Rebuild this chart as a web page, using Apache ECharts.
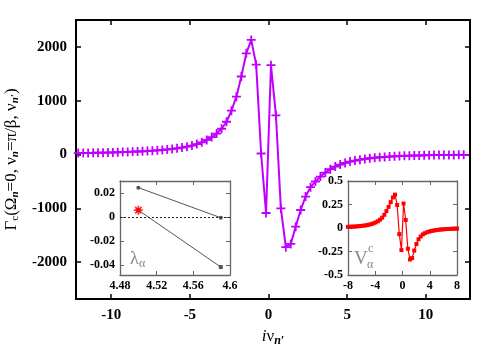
<!DOCTYPE html>
<html>
<head>
<meta charset="utf-8">
<script src="https://cdn.jsdelivr.net/npm/echarts@6/dist/echarts.min.js"></script>
<style>
  html, body { margin: 0; padding: 0; background: #fff; }
  #chart { width: 500px; height: 350px; }
</style>
</head>
<body>
<div id="chart"></div>
<script>
// fermionic Matsubara frequencies nu_n' (beta = 20)
var nu = [-12.10, -11.78, -11.47, -11.15, -10.84, -10.52, -10.21, -9.896, -9.582, -9.268,
  -8.954, -8.639, -8.325, -8.011, -7.697, -7.383, -7.069, -6.754, -6.440, -6.126,
  -5.812, -5.498, -5.184, -4.869, -4.555, -4.241, -3.927, -3.613, -3.299, -2.985,
  -2.670, -2.356, -2.042, -1.728, -1.414, -1.100, -0.785, -0.471, -0.157,
  0.157, 0.471, 0.785, 1.100, 1.414, 1.728, 2.042, 2.356, 2.670, 2.985,
  3.299, 3.613, 3.927, 4.241, 4.555, 4.869, 5.184, 5.498, 5.812, 6.126,
  6.440, 6.754, 7.069, 7.383, 7.697, 8.011, 8.325, 8.639, 8.954, 9.268,
  9.582, 9.896, 10.21, 10.52, 10.84, 11.15, 11.47, 11.78, 12.10, 12.41];

// Gamma_c(Omega=0, nu=pi/beta, nu')
var gammaC = [27, 28, 30, 32, 34, 36, 38, 40, 43, 46,
  49, 53, 57, 61, 66, 72, 79, 86, 95, 105,
  117, 130, 147, 167, 195, 228, 272, 325, 390, 480,
  610, 815, 1075, 1450, 1880, 2130, 1670, 20, -1085,
  1660, 730, -1000, -1720, -1660, -1340, -1030, -780, -605, -500,
  -408, -334, -271, -223, -185, -155, -130, -112, -95, -80,
  -68, -58, -50, -43, -37, -32, -28, -24, -21, -18,
  -16, -14, -12, -10, -9, -8, -7, -6, -5, -4];

// inset: leading eigenvalues lambda_alpha
var lamX = [4.50, 4.59];
var lamUpper = [0.0245, -0.0005];
var lamLower = [0.0058, -0.0414];

// inset: vertex V_alpha^c on nu in [-8, 8]
var vNu = nu.slice(13, 65);
var vertexC = [0.012, 0.013, 0.014, 0.015, 0.017, 0.019, 0.021, 0.024, 0.027, 0.031,
  0.036, 0.042, 0.05, 0.06, 0.072, 0.088, 0.11, 0.14, 0.18, 0.225,
  0.275, 0.325, 0.355, 0.245, -0.065, -0.235,
  0.26, 0.085, -0.22, -0.335, -0.32, -0.24, -0.17, -0.12, -0.09, -0.068,
  -0.055, -0.045, -0.038, -0.032, -0.027, -0.023, -0.02, -0.017, -0.015, -0.013,
  -0.011, -0.01, -0.009, -0.008, -0.007, -0.006];

var mainXTicks = [-10, -5, 0, 5, 10];
var mainYTicks = [-2000, -1000, 0, 1000, 2000];
var lamXTicks = [4.48, 4.52, 4.56, 4.6];
var lamYTicks = [-0.04, -0.02, 0, 0.02];
var vXTicks = [-8, -4, 0, 4, 8];
var vYTicks = [-0.5, -0.25, 0, 0.25, 0.5];

var serif = 'Liberation Serif';
var plusPath = 'path://M4,0H6V4H10V6H6V10H4V6H0V4H4Z';

function pairs(xs, ys) {
  return xs.map(function (x, i) { return [x, ys[i]]; });
}

// one axis of a framed box; labels only on bottom/left
function axis(grid, pos, min, max, ticks, c, fs, showLabel, extra) {
  var a = {
    gridIndex: grid, type: 'value', position: pos, min: min, max: max,
    splitLine: { show: false },
    axisLine: { show: true, onZero: false, lineStyle: { color: c.line, width: c.w } },
    axisTick: { show: true, inside: true, length: c.tick, customValues: ticks,
      lineStyle: { color: c.line, width: c.w > 1.5 ? 1.5 : 1 } },
    axisLabel: { show: showLabel, customValues: ticks, color: '#000', fontFamily: serif,
      fontWeight: 'bold', fontSize: fs, margin: c.margin,
      formatter: function (v) { return String(v); } }
  };
  return Object.assign(a, extra || {});
}

var mainC = { line: '#000', w: 2, tick: 5, margin: 9 };
var insetC = { line: '#666', w: 1.3, tick: 4, margin: 5 };

var chart = echarts.init(document.getElementById('chart'));
chart.setOption({
  animation: false,
  backgroundColor: '#fff',
  grid: [
    { left: 76, top: 20, width: 394, height: 279, outerBoundsMode: 'none' },
    { left: 120, top: 181, width: 110, height: 94, show: true, backgroundColor: '#fff', borderWidth: 0, outerBoundsMode: 'none' },
    { left: 348, top: 181, width: 109, height: 94, show: true, backgroundColor: '#fff', borderWidth: 0, outerBoundsMode: 'none' }
  ],
  xAxis: [
    axis(0, 'bottom', -12.24, 12.81, mainXTicks, mainC, 15, true, {
      name: '{i|i}{t|ν}{s|n′}', nameLocation: 'middle', nameGap: 24,
      nameTextStyle: { color: '#000', fontFamily: serif, rich: {
        i: { fontSize: 17, fontStyle: 'italic', fontFamily: serif },
        t: { fontSize: 17, fontFamily: serif },
        s: { fontSize: 12, fontStyle: 'italic', fontWeight: 'bold', fontFamily: serif, padding: [9, 0, 0, 0] }
      } }
    }),
    axis(0, 'top', -12.24, 12.81, mainXTicks, mainC, 15, false),
    axis(1, 'bottom', 4.48, 4.6, lamXTicks, insetC, 12, true),
    axis(1, 'top', 4.48, 4.6, lamXTicks, insetC, 12, false),
    axis(2, 'bottom', -8, 8, vXTicks, insetC, 12, true),
    axis(2, 'top', -8, 8, vXTicks, insetC, 12, false)
  ],
  yAxis: [
    axis(0, 'left', -2683, 2500, mainYTicks, mainC, 15, true, {
      name: '{t|Γ}{s|c}{t|(Ω}{si|n}{t|=0, ν}{si|n}{t|=π/β, ν}{si|n′}{t|)}',
      nameLocation: 'middle', nameRotate: 90, nameGap: 50,
      nameTextStyle: { color: '#000', fontFamily: serif, rich: {
        t: { fontSize: 17, fontFamily: serif },
        s: { fontSize: 11, fontFamily: serif, padding: [8, 0, 0, 0] },
        si: { fontSize: 11, fontStyle: 'italic', fontWeight: 'bold', fontFamily: serif, padding: [8, 0, 0, 0] }
      } }
    }),
    axis(0, 'right', -2683, 2500, mainYTicks, mainC, 15, false),
    axis(1, 'left', -0.048, 0.03, lamYTicks, insetC, 12, true),
    axis(1, 'right', -0.048, 0.03, lamYTicks, insetC, 12, false),
    axis(2, 'left', -0.5, 0.5, vYTicks, insetC, 12, true),
    axis(2, 'right', -0.5, 0.5, vYTicks, insetC, 12, false)
  ],
  series: [
    {
      type: 'line', xAxisIndex: 0, yAxisIndex: 0, data: pairs(nu, gammaC),
      symbol: plusPath, symbolSize: 9, showAllSymbol: true,
      lineStyle: { color: '#c000ff', width: 2 }, itemStyle: { color: '#c000ff' }
    },
    {
      type: 'line', xAxisIndex: 2, yAxisIndex: 2, data: pairs(lamX, lamUpper),
      symbol: 'circle', symbolSize: 4,
      lineStyle: { color: '#555', width: 1 }, itemStyle: { color: '#555' },
      markLine: {
        silent: true, symbol: 'none', label: { show: false },
        lineStyle: { color: '#222', type: [2, 2], width: 1 },
        data: [{ yAxis: 0 }]
      }
    },
    {
      type: 'line', xAxisIndex: 2, yAxisIndex: 2, data: pairs(lamX, lamLower),
      symbol: 'rect', symbolSize: 4,
      lineStyle: { color: '#555', width: 1 }, itemStyle: { color: '#555' }
    },
    {
      type: 'scatter', xAxisIndex: 2, yAxisIndex: 2, data: [[lamX[0], lamLower[0]]],
      symbol: plusPath, symbolSize: 9, itemStyle: { color: '#ff0000' }, z: 5
    },
    {
      type: 'scatter', xAxisIndex: 2, yAxisIndex: 2, data: [[lamX[0], lamLower[0]]],
      symbol: plusPath, symbolSize: 9, symbolRotate: 45, itemStyle: { color: '#ff0000' }, z: 5
    },
    {
      type: 'line', xAxisIndex: 4, yAxisIndex: 4, data: pairs(vNu, vertexC),
      symbol: 'rect', symbolSize: 4, showAllSymbol: true,
      lineStyle: { color: '#ff0000', width: 1.2 }, itemStyle: { color: '#ff0000' }
    }
  ],
  graphic: [
    { type: 'text', left: 130, top: 250, z: 10,
      style: { text: 'λ', fontSize: 18, fontFamily: serif, fill: '#888' } },
    { type: 'text', left: 139, top: 258, z: 10,
      style: { text: 'α', fontSize: 12, fontFamily: serif, fill: '#888' } },
    { type: 'text', left: 354, top: 250, z: 10,
      style: { text: 'V', fontSize: 19, fontFamily: serif, fill: '#888' } },
    { type: 'text', left: 368, top: 243, z: 10,
      style: { text: 'c', fontSize: 12, fontFamily: serif, fill: '#888' } },
    { type: 'text', left: 367, top: 259, z: 10,
      style: { text: 'α', fontSize: 12, fontFamily: serif, fill: '#888' } }
  ]
});
</script>
</body>
</html>
